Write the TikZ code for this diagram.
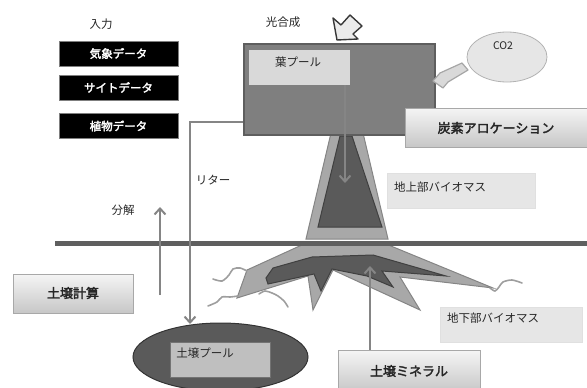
\documentclass[tikz,border=0pt]{standalone}
\usepackage{fontspec}
\setmainfont{Noto Sans CJK JP}[AutoFakeBold=2.5]
\usetikzlibrary{arrows.meta,shapes.geometric,calc}

\definecolor{inkgrey}{HTML}{262626}
\definecolor{boxgrey}{HTML}{7F7F7F}
\definecolor{boxedge}{HTML}{5E5E5E}
\definecolor{palegrey}{HTML}{D9D9D9}
\definecolor{labelgrey}{HTML}{E6E6E6}
\definecolor{linegrey}{HTML}{858585}
\definecolor{groundgrey}{HTML}{5F5F5F}
\definecolor{lightwood}{HTML}{A8A8A8}
\definecolor{darkwood}{HTML}{5A5A5A}
\definecolor{hairgrey}{HTML}{9E9E9E}

\tikzset{
  txt/.style={text=inkgrey, font=\fontsize{11.5}{13}\selectfont, inner sep=0pt},
  boldtxt/.style={text=inkgrey, font=\fontsize{13}{15}\selectfont\bfseries, inner sep=0pt},
  databox/.style={draw=boxgrey, line width=0.8pt, fill=black, text=white,
    font=\fontsize{11.5}{13}\selectfont\bfseries,
    minimum width=119pt, minimum height=25pt, inner sep=0pt},
  gradbox/.style={draw=lightwood, line width=0.8pt, top color=white!96!black,
    bottom color=black!22, inner sep=0pt},
  notebox/.style={fill=labelgrey, draw=black!12, line width=0.5pt, inner sep=0pt},
  flow/.style={draw=linegrey, line width=2.3pt,
    -{Straight Barb[length=6pt,width=11pt,line width=2pt]}},
  blockarrow/.style={line width=1.4pt, line join=round},
  hair/.style={draw=hairgrey, line width=1.6pt, line cap=round},
}

\begin{document}
\begin{tikzpicture}[x=1pt,y=-1pt]
\useasboundingbox (0,0) rectangle (587,388);

% input data
\node[txt] (input) at (101,24) {入力};
\node[databox] (weather) at (118.5,53.5) {気象データ};
\node[databox] (site) at (118.5,87.5) {サイトデータ};
\node[databox] (plant) at (118.5,126) {植物データ};

% photosynthesis label and sunlight arrow
\node[txt] (photo) at (283,22) {光合成};
\path[blockarrow, draw=black!78, fill=black!8]
  (337,40) -- (333,18) -- (341,25) -- (350,15) -- (362,26) -- (353,34) -- (358,39) -- cycle;

% trunk (drawn first so the canopy box covers its top)
\path[fill=lightwood, draw=linegrey, line width=1pt]
  (331,133) -- (363,133) -- (388,239) -- (306,239) -- cycle;
\path[fill=darkwood, draw=black!75, line width=1pt]
  (340,136) -- (352,136) -- (382,227) -- (318,227) -- cycle;

% canopy box with the leaf pool
\node[draw=boxedge, line width=2pt, fill=boxgrey, minimum width=191pt,
  minimum height=91pt, inner sep=0pt] (canopy) at (339,89) {};
\node[fill=palegrey, minimum width=101pt, minimum height=35pt, inner sep=0pt]
  (leafpool) at (299.5,67.5) {};
\node[txt] (leaftxt) at (298,62) {葉プール};

% CO2 and its arrow
\node[ellipse, fill=labelgrey, draw=black!30, line width=0.8pt,
  minimum width=80pt, minimum height=50pt, inner sep=0pt] (co2) at (507,57) {};
\node[text=inkgrey, font=\fontsize{10.5}{12}\selectfont, inner sep=0pt] (co2txt) at (503,46) {CO2};
\path[blockarrow, draw=black!35, fill=palegrey, line width=1.2pt]
  (433,81) -- (440,73) -- (462,63) -- (468,70) -- (448,82) -- (443,88) -- cycle;

% carbon allocation
\node[gradbox, minimum width=182pt, minimum height=39pt] (alloc) at (496,127.5) {};
\node[boldtxt] (alloctxt) at (496,128) {炭素アロケーション};

% above-ground biomass label
\node[notebox, minimum width=148pt, minimum height=35pt] (above) at (461,190.5) {};
\node[txt, anchor=west] (abovetxt) at (394,187) {地上部バイオマス};

% roots
\path[fill=lightwood, draw=linegrey, line width=1pt]
  (304,244) -- (386,244) -- (493,288) -- (400,277) -- (420,310) -- (333,270)
  -- (313,310) -- (308,276) -- (237,298) -- (247,270) -- cycle;
\path[fill=darkwood, draw=black!75, line width=1pt]
  (273,268) -- (312,257) -- (373,255) -- (446,276) -- (382,271) -- (393,287)
  -- (367,276) -- (332,269) -- (321,291) -- (314,274) -- (268,284)
  -- (266,278) -- cycle;
\draw[hair] plot[smooth] coordinates {(247,271) (240,268) (233,269) (229,275) (222,281) (213,279)};
\draw[hair] plot[smooth] coordinates {(238,296) (230,297) (222,297) (217,302) (208,306)};
\draw[hair] plot[smooth] coordinates {(259,294) (265,291) (272,293) (278,296) (284,301) (288,307)};
\draw[hair] plot[smooth] coordinates {(490,288) (495,291) (499,287) (503,282) (512,280) (522,283)};

% soil surface
\coordinate (groundW) at (55,243);
\coordinate (groundE) at (587,243);
\draw[draw=groundgrey, line width=5pt] (groundW) -- (groundE);

% below-ground biomass label
\node[notebox, minimum width=142pt, minimum height=35pt] (below) at (511,324.5) {};
\node[txt, anchor=west] (belowtxt) at (447,318) {地下部バイオマス};

% soil pool
\node[ellipse, fill=darkwood, draw=black!80, line width=1pt,
  minimum width=175pt, minimum height=68pt, inner sep=0pt] (pool) at (220.5,357) {};
\node[fill=black!25, draw=black!55, line width=0.6pt, minimum width=100pt,
  minimum height=35pt, inner sep=0pt] (poolbox) at (220,359.5) {};
\node[txt] (pooltxt) at (205,353) {土壌プール};

% soil calculation and soil minerals
\node[gradbox, minimum width=120pt, minimum height=39pt] (soilcalc) at (73,293.5) {};
\node[boldtxt] (soilcalctxt) at (73,293) {土壌計算};
\node[gradbox, minimum width=142pt, minimum height=42pt] (mineral) at (409,371) {};
\node[boldtxt] (mineraltxt) at (409,371) {土壌ミネラル};

% flows
\coordinate (leafEnd) at (345,183);
\draw[flow] (leafpool.south -| leafEnd) -- (leafEnd);
\coordinate (rootEnd) at (370,266);
\draw[flow] (mineral.north -| rootEnd) -- (rootEnd);
\coordinate (decoStart) at (160,295);
\coordinate (decoEnd) at (160,207);
\draw[flow] (decoStart) -- (decoEnd);
\node[txt] (decotxt) at (123,210) {分解};
\coordinate (litterStart) at (canopy.west |- 0,122);
\coordinate (litterEnd) at (190,324);
\draw[flow] (litterStart) -| (litterEnd);
\node[txt] (littertxt) at (213,180) {リター};

\end{tikzpicture}
\end{document}
